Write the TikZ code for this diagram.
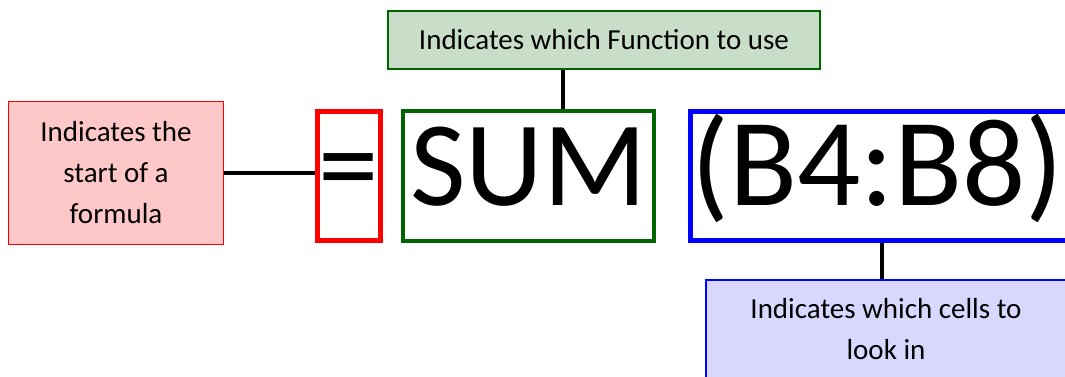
\documentclass[tikz,border=0pt]{standalone}
\usepackage{fontspec}
\setmainfont{Carlito}
\definecolor{pinkfill}{RGB}{255,200,200}
\definecolor{greenfill}{RGB}{200,222,200}
\definecolor{bluefill}{RGB}{216,216,255}
\definecolor{dgreen}{RGB}{0,100,0}
\tikzset{
  label/.style={draw, inner sep=0pt, align=center, font=\fontsize{29}{41}\selectfont},
  bigbox/.style={draw, inner sep=0pt, font=\fontsize{121}{121}\selectfont, text height=88pt, text depth=30pt},
  conn/.style={draw=black, line width=4pt}
}
\begin{document}
\begin{tikzpicture}[x=1pt,y=-1pt]
\useasboundingbox (0,0) rectangle (1065,376);
\clip (0,0) rectangle (1065,376);
% labels
\node[label, fill=pinkfill, draw=red, line width=1.5pt, minimum width=215pt, minimum height=143pt] (rlab) at (116,173) {Indicates the\\start of a\\formula};
\node[label, fill=greenfill, draw=dgreen, line width=2pt, minimum width=432pt, minimum height=58pt] (glab) at (604,40) {Indicates which Function to use};
\node[label, fill=bluefill, draw=blue, line width=1.5pt, minimum width=360pt, minimum height=99pt] (blab) at (886,329.5) {Indicates which cells to\\look in};
% formula boxes
\node[bigbox, draw=red, line width=5pt, minimum width=63pt, minimum height=129pt] (eqbox) at (349,176) {=};
\node[bigbox, draw=dgreen, line width=4pt, minimum width=251pt, minimum height=130pt] (sumbox) at (528.5,176) {SUM};
\node[bigbox, draw=blue, line width=5pt, minimum width=379.5pt, minimum height=129pt, font=\fontsize{125}{125}\selectfont] (rngbox) at (880.25,176) {\hspace*{-6pt}(B4:B8)};
% connectors
\coordinate (cg) at (563,0);
\coordinate (cb) at (882,0);
\draw[conn] (rlab.east) -- (rlab.east -| eqbox.west);
\draw[conn] (glab.south -| cg) -- (sumbox.north -| cg);
\draw[conn] (rngbox.south -| cb) -- (blab.north -| cb);
\end{tikzpicture}
\end{document}
